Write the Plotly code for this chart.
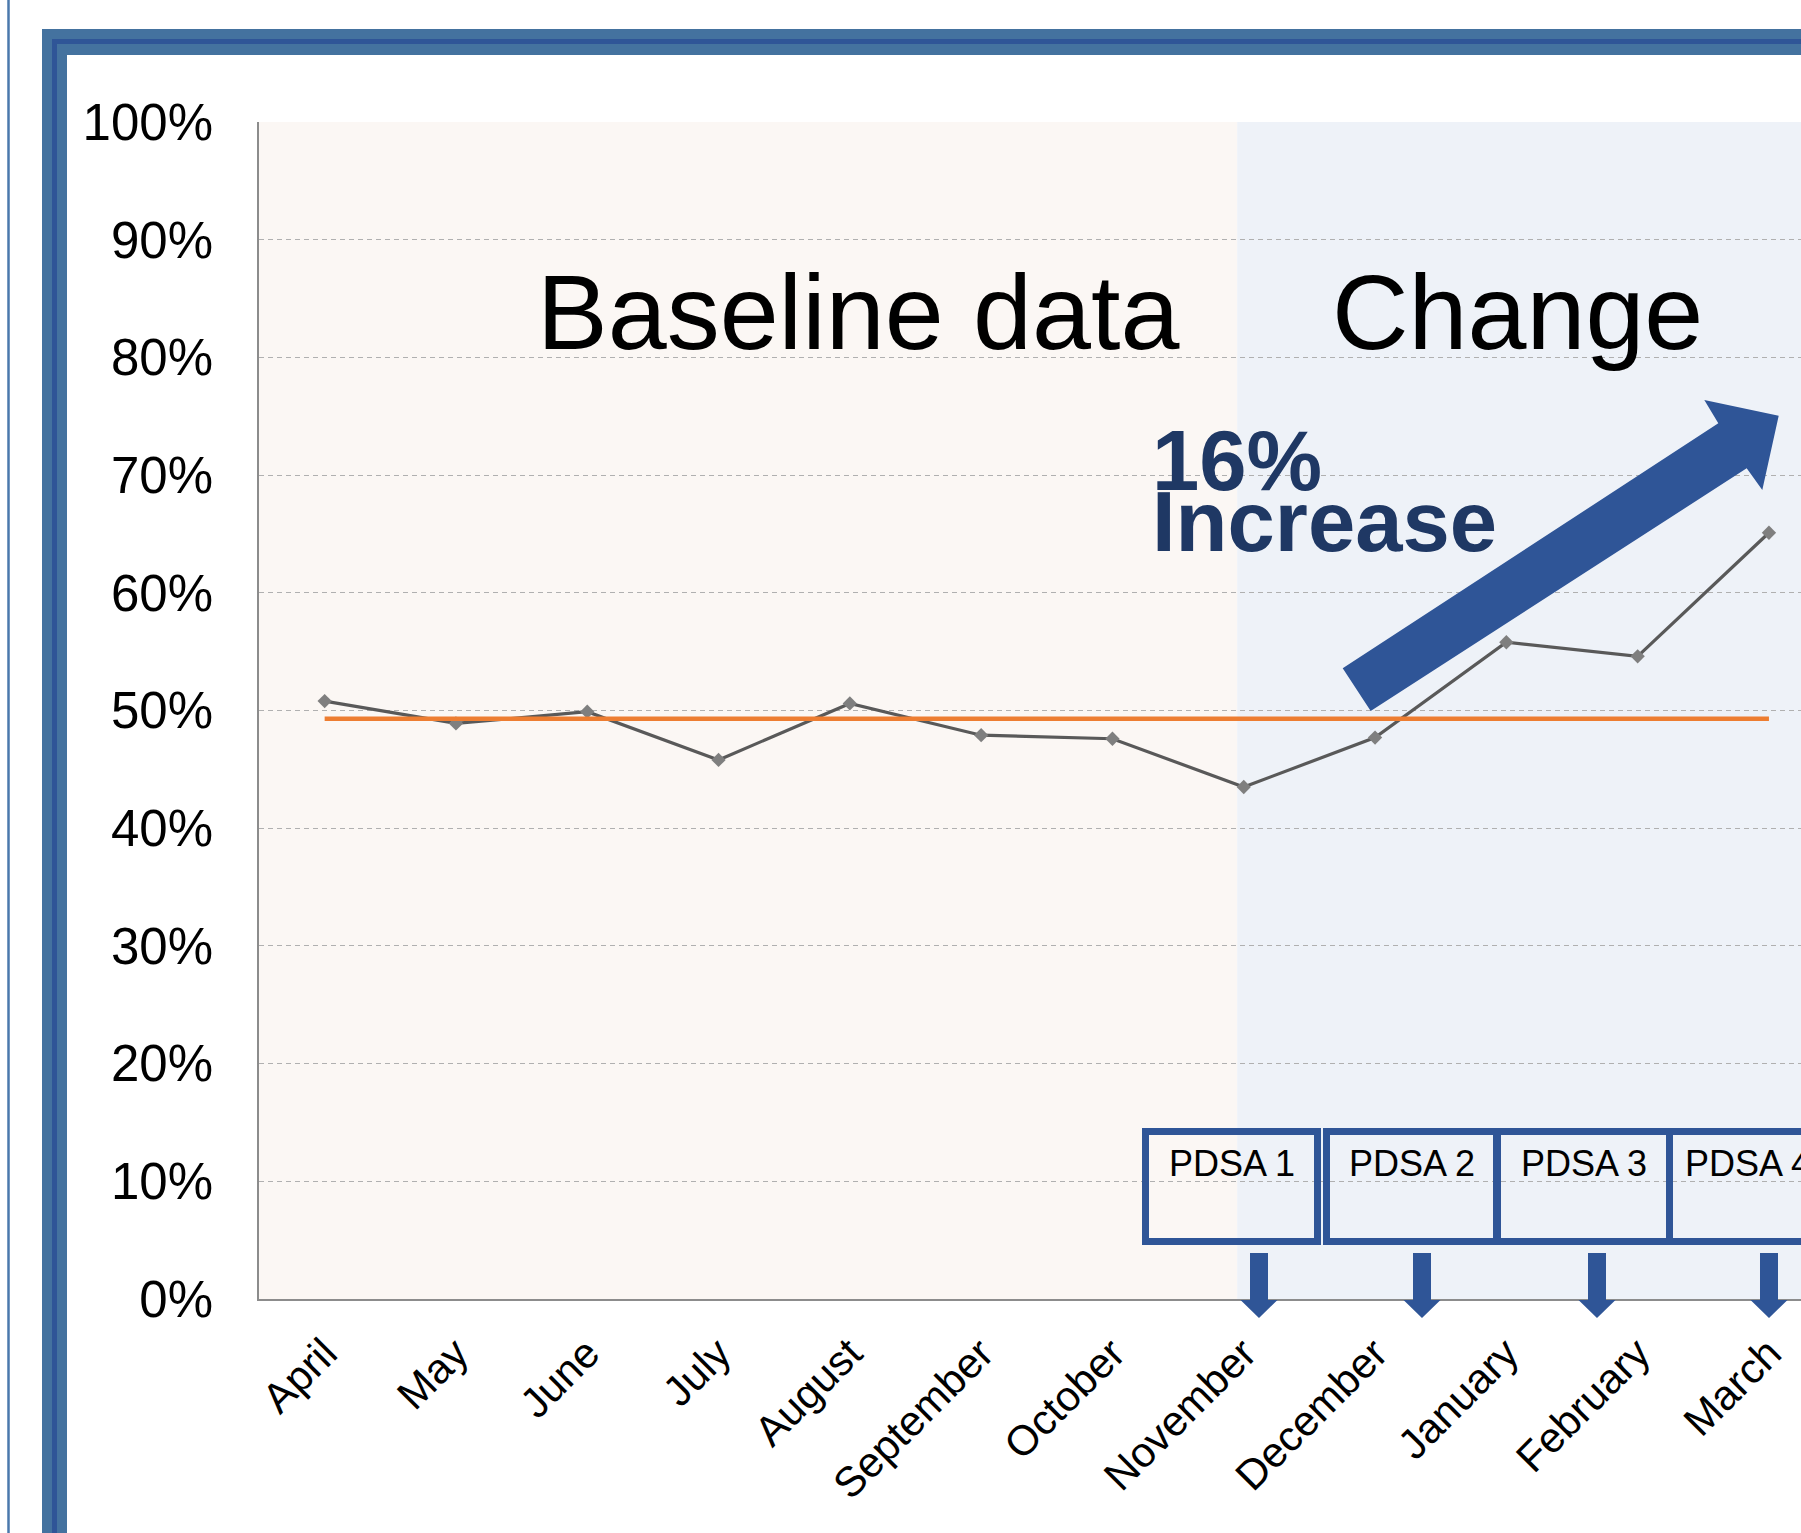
import plotly.graph_objects as go

# ---------------- data ----------------
months = ["April", "May", "June", "July", "August", "September",
          "October", "November", "December", "January", "February", "March"]
rate = [0.508, 0.489, 0.499, 0.458, 0.506, 0.479,
        0.476, 0.435, 0.477, 0.558, 0.546, 0.651]
median_value = 0.493
median = [median_value] * len(months)
y_tick_vals = [0, 0.1, 0.2, 0.3, 0.4, 0.5, 0.6, 0.7, 0.8, 0.9, 1.0]
y_tick_text = ["0%", "10%", "20%", "30%", "40%", "50%", "60%", "70%", "80%", "90%", "100%"]
change_start = 6.95          # category position where the "Change" period begins
pdsa_labels = ["PDSA 1", "PDSA 2", "PDSA 3", "PDSA 4"]

# ---------------- geometry helpers (pixel -> paper) ----------------
W, H = 1801, 1533
ML, MR, MT, MB = 259, 0, 122, 234
PW, PH = W - ML - MR, H - MT - MB
STEP = 131.3                      # pixels per category
x_right = -0.5 + PW / STEP


def X(px):
    return (px - ML) / PW


def Y(py):
    return (H - MB - py) / PH


STEEL = "#44729F"
DARK = "#2F5597"
NAVY = "#1F3864"
FONT = "Liberation Sans, Arial, sans-serif"

fig = go.Figure()
fig.add_trace(go.Scatter(
    x=months, y=rate, mode="lines+markers",
    line=dict(color="#595959", width=3.2),
    marker=dict(symbol="diamond", size=11, color="#7F7F7F"),
    hoverinfo="skip", showlegend=False))
fig.add_trace(go.Scatter(
    x=months, y=median, mode="lines",
    line=dict(color="#ED7D31", width=4.5),
    hoverinfo="skip", showlegend=False))

shapes = []
# picture frame
for (x0, y0, col) in [(42, 29, STEEL), (52, 39, DARK), (57, 44, STEEL), (67, 55, "white")]:
    shapes.append(dict(type="rect", xref="paper", yref="paper", layer="below",
                       x0=X(x0), x1=X(2000), y0=Y(y0), y1=Y(1800),
                       fillcolor=col, line=dict(width=0)))
shapes.append(dict(type="line", xref="paper", yref="paper", layer="below",
                   x0=X(8.5), x1=X(8.5), y0=Y(-10), y1=Y(1600),
                   line=dict(color="#4A78AC", width=2.5)))
# period shading
shapes.append(dict(type="rect", xref="x", yref="y", layer="below",
                   x0=-0.5, x1=change_start, y0=0, y1=1,
                   fillcolor="#FBF7F4", line=dict(width=0)))
shapes.append(dict(type="rect", xref="x", yref="y", layer="below",
                   x0=change_start, x1=x_right + 1, y0=0, y1=1,
                   fillcolor="#EEF2F8", line=dict(width=0)))

# PDSA boxes (pixel positions of outer edges)
boxes = [(1142, 1321), (1323, 1500), (1494, 1673), (1666, 1830)]
for (bx0, bx1) in boxes:
    shapes.append(dict(type="rect", xref="paper", yref="paper", layer="above",
                       x0=X(bx0 + 3.5), x1=X(bx1 - 3.5), y0=Y(1131.5), y1=Y(1241.5),
                       line=dict(color=DARK, width=7), fillcolor="rgba(0,0,0,0)"))

# small down arrows
for c in [1259, 1422, 1597, 1769]:
    pts = [(c - 9, 1253), (c + 9, 1253), (c + 9, 1300), (c + 18.5, 1300),
           (c, 1318), (c - 18.5, 1300), (c - 9, 1300)]
    path = "M " + " L ".join(f"{X(a):.6f},{Y(b):.6f}" for a, b in pts) + " Z"
    shapes.append(dict(type="path", xref="paper", yref="paper", layer="above",
                       path=path, fillcolor=DARK, line=dict(width=0)))

# big up arrow
big = [(1342.7, 668.3), (1718.3, 423.3), (1704.3, 400), (1778.7, 415.7),
       (1762.3, 490), (1746.7, 468.3), (1370.7, 711)]
path = "M " + " L ".join(f"{X(a):.6f},{Y(b):.6f}" for a, b in big) + " Z"
shapes.append(dict(type="path", xref="paper", yref="paper", layer="above",
                   path=path, fillcolor=DARK, line=dict(width=0)))

annotations = []


def text(s, cx, cy, size, color="black", bold=False, xanchor="center"):
    annotations.append(dict(
        text=f"<b>{s}</b>" if bold else s, xref="paper", yref="paper",
        x=X(cx), y=Y(cy), xanchor=xanchor, yanchor="middle", showarrow=False,
        font=dict(family=FONT, size=size, color=color)))


text("Baseline data", 858, 312, 106)
text("Change", 1517, 312, 106)
text("16%", 1150, 460, 85, NAVY, True, "left")
text("Increase", 1150, 521, 85, NAVY, True, "left")
for lab, (bx0, bx1) in zip(pdsa_labels, boxes):
    text(lab, (bx0 + bx1) / 2, 1163, 36)

fig.update_layout(
    width=W, height=H, margin=dict(l=ML, r=MR, t=MT, b=MB, pad=0),
    paper_bgcolor="white", plot_bgcolor="rgba(0,0,0,0)",
    shapes=shapes, annotations=annotations,
    font=dict(family=FONT, color="black"),
    xaxis=dict(range=[-0.5, x_right], showgrid=False, showline=True,
               linecolor="#8C8C8C", linewidth=1.5, ticks="", tickangle=-45,
               tickfont=dict(size=42), ticklabelstandoff=11, zeroline=False),
    yaxis=dict(range=[0, 1], tickvals=y_tick_vals, ticktext=y_tick_text,
               showgrid=True, gridcolor="#B0B0B0", gridwidth=1, griddash="5px,4px",
               showline=True, linecolor="#8C8C8C", linewidth=1.5, ticks="",
               tickfont=dict(size=51), ticklabelstandoff=34, zeroline=False),
)

fig.write_html("out.html")
